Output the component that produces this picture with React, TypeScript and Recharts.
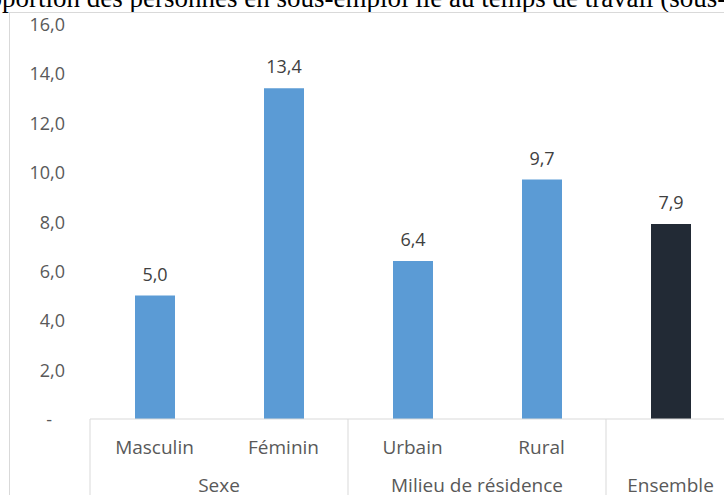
import React from 'react';
import { BarChart, Bar, XAxis, YAxis, Cell, LabelList } from 'recharts';

const categories = ['Masculin', 'Féminin', 'Urbain', 'Rural', 'Ensemble'];
const groups = ['Sexe', 'Sexe', 'Milieu de résidence', 'Milieu de résidence', 'Ensemble'];
const values = [5.0, 13.4, 6.4, 9.7, 7.9];
const yTicks = [0, 2, 4, 6, 8, 10, 12, 14, 16];

const data = categories.map((c, i) => ({ name: c, group: groups[i], value: values[i] }));

const FONT = '"Open Sans", sans-serif';
const BLUE = '#5B9BD5';
const DARK = '#222A35';
const GRID = '#D9D9D9';

const fmt = (v: number) => v.toFixed(1).replace('.', ',');

const YTick = ({ x, y, payload }: any) => {
  const v = payload.value;
  return (
    <text x={v === 0 ? x - 13 : x} y={y} textAnchor="end" dominantBaseline="central"
      fill="#595959" fontSize={18} fontFamily={FONT}>
      {v === 0 ? '-' : fmt(v)}
    </text>
  );
};

// two-row category axis: item label, then group label with separators
const XTick = ({ x, y, payload, index }: any) => {
  const i = payload.index ?? index;
  const band = payload.offset * 2;
  const left = x - band / 2;
  const start = i === 0 || groups[i] !== groups[i - 1];
  let size = 1;
  while (i + size < groups.length && groups[i + size] === groups[i]) size++;
  const last = i === groups.length - 1;
  return (
    <g>
      {categories[i] !== groups[i] && (
        <text x={x} y={y + 28} textAnchor="middle" dominantBaseline="central"
          fill="#595959" fontSize={19} fontFamily={FONT}>{categories[i]}</text>
      )}
      {start && <line x1={left} y1={y} x2={left} y2={y + 80} stroke={GRID} />}
      {start && (
        <text x={left + (size * band) / 2} y={y + 66} textAnchor="middle" dominantBaseline="central"
          fill="#595959" fontSize={19} fontFamily={FONT}>{groups[i]}</text>
      )}
      {last && <line x1={x + band / 2} y1={y} x2={x + band / 2} y2={y + 80} stroke={GRID} />}
    </g>
  );
};

export default function App() {
  return (
    <div style={{ position: 'absolute', left: 0, top: 0, width: 724, height: 495, overflow: 'hidden', background: '#fff' }}>
      {/* caption of the document, partly hidden behind the chart frame */}
      <div style={{ position: 'absolute', left: 2, top: -17, whiteSpace: 'nowrap', fontFamily: '"Liberation Serif", serif', fontSize: 27, color: '#000' }}>
        <span style={{ position: 'absolute', right: '100%' }}>Pro</span>
        portion des personnes en sous-emploi lié au temps de travail (sous-emploi visible)
      </div>
      <div style={{ position: 'absolute', left: 9, top: 12, width: 800, height: 600, border: `1px solid ${GRID}`, background: '#fff' }} />
      <div style={{ position: 'absolute', left: 0, top: 0 }}>
        <BarChart width={735} height={495} data={data} margin={{ top: 24, right: 0, left: 0, bottom: 0 }}>
          <YAxis type="number" domain={[0, 16]} ticks={yTicks} width={90} axisLine={false} tickLine={false}
            tickSize={0} tickMargin={25} tick={<YTick />} />
          <XAxis dataKey="name" height={76} interval={0} tickLine={false} tickSize={0} tickMargin={0}
            axisLine={{ stroke: GRID }} tick={<XTick />} />
          <Bar dataKey="value" barSize={40} isAnimationActive={false}>
            {data.map((d, i) => (
              <Cell key={d.name} fill={d.name === 'Ensemble' ? DARK : BLUE} />
            ))}
            <LabelList dataKey="value" position="top" offset={15} formatter={(v: any) => fmt(Number(v))}
              fill="#404040" fontSize={18} fontFamily={FONT} />
          </Bar>
        </BarChart>
      </div>
    </div>
  );
}
